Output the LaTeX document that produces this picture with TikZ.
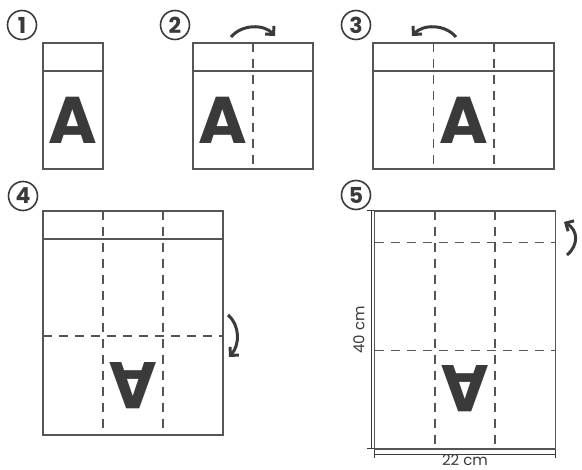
\documentclass[tikz,border=0pt]{standalone}
\usepackage{fontspec}
\setmainfont{Poppins}
\usetikzlibrary{arrows.meta}
\definecolor{ln}{HTML}{555555}
\definecolor{ink}{HTML}{3A3A3A}
\begin{document}
\begin{tikzpicture}[x=1pt,y=-1pt,
 sheet/.style={draw=ln,line width=1.4pt},
 fold/.style={draw=ln,line width=1.4pt,dash pattern=on 9pt off 7pt},
 letter/.style={text=ink,font=\fontsize{66}{66}\selectfont\bfseries,inner sep=0pt},
 num/.style={circle,draw=ink,line width=1.6pt,minimum size=29pt,inner sep=0pt,text=ink,font=\fontsize{22}{22}\selectfont\bfseries},
 turn/.style={draw=ink,line width=3pt,-{Straight Barb[length=6pt,width=12pt]}},
 dim/.style={draw=ink,line width=1pt},
 lab/.style={text=ink,font=\fontsize{15}{15}\selectfont,inner sep=0pt}]
\useasboundingbox (0,0) rectangle (582,470);
% step numbers
\node[num] (n1) at (22,25) {1};
\node[num] (n2) at (175,25) {2};
\node[num] (n3) at (356,25) {3};
\node[num] (n4) at (23,196) {4};
\node[num] (n5) at (356,195) {5};
% panel 1
\draw[sheet] (43,43) rectangle (103,169);
\draw[sheet] (43,71) -- (103,71);
\node[letter] (a1) at (73,120) {A};
% panel 2
\draw[sheet] (193,43) rectangle (313,169);
\draw[sheet] (193,71) -- (313,71);
\draw[fold] (253,43) -- (253,169);
\node[letter] (a2) at (223,120) {A};
\draw[turn] (231,37) .. controls (242,24) and (264,24) .. (275,36);
% panel 3
\draw[sheet] (373,43) rectangle (554,169);
\draw[sheet] (373,71) -- (554,71);
\draw[fold] (433.5,43) -- (433.5,169);
\draw[fold] (494,43) -- (494,169);
\node[letter] (a3) at (464,120) {A};
\draw[turn] (456,37) .. controls (445,24) and (423,24) .. (412,36);
% panel 4
\draw[sheet] (43,211) rectangle (223,435);
\draw[sheet] (43,239) -- (223,239);
\draw[fold] (103,211) -- (103,435);
\draw[fold] (163,211) -- (163,435);
\draw[fold] (43,336) -- (223,336);
\node[letter,rotate=180] (a4) at (133,385.5) {A};
\draw[turn] (228,315) .. controls (240,325) and (240,345) .. (229,357);
% panel 5
\draw[sheet] (374.5,211) rectangle (555.5,449);
\draw[fold] (435,211) -- (435,449);
\draw[fold] (495,211) -- (495,449);
\draw[fold] (374.5,242.5) -- (555.5,242.5);
\draw[fold] (374.5,350.5) -- (555.5,350.5);
\node[letter,rotate=180] (a5) at (465,388.5) {A};
\draw[turn] (567,255) .. controls (579,245) and (578,230) .. (564,222);
% dimensions
\draw[dim] (371,211) -- (371,449);
\draw[dim] (367,211) -- (374,211);
\draw[dim] (367,449) -- (374,449);
\draw[dim] (374.5,454.5) -- (555.5,454.5);
\draw[dim] (374.5,450.5) -- (374.5,458.5);
\draw[dim] (555.5,450.5) -- (555.5,458.5);
\node[lab,anchor=base] (w) at (465,466) {22 cm};
\node[lab,rotate=90] (h) at (359,330) {40 cm};
\end{tikzpicture}
\end{document}
